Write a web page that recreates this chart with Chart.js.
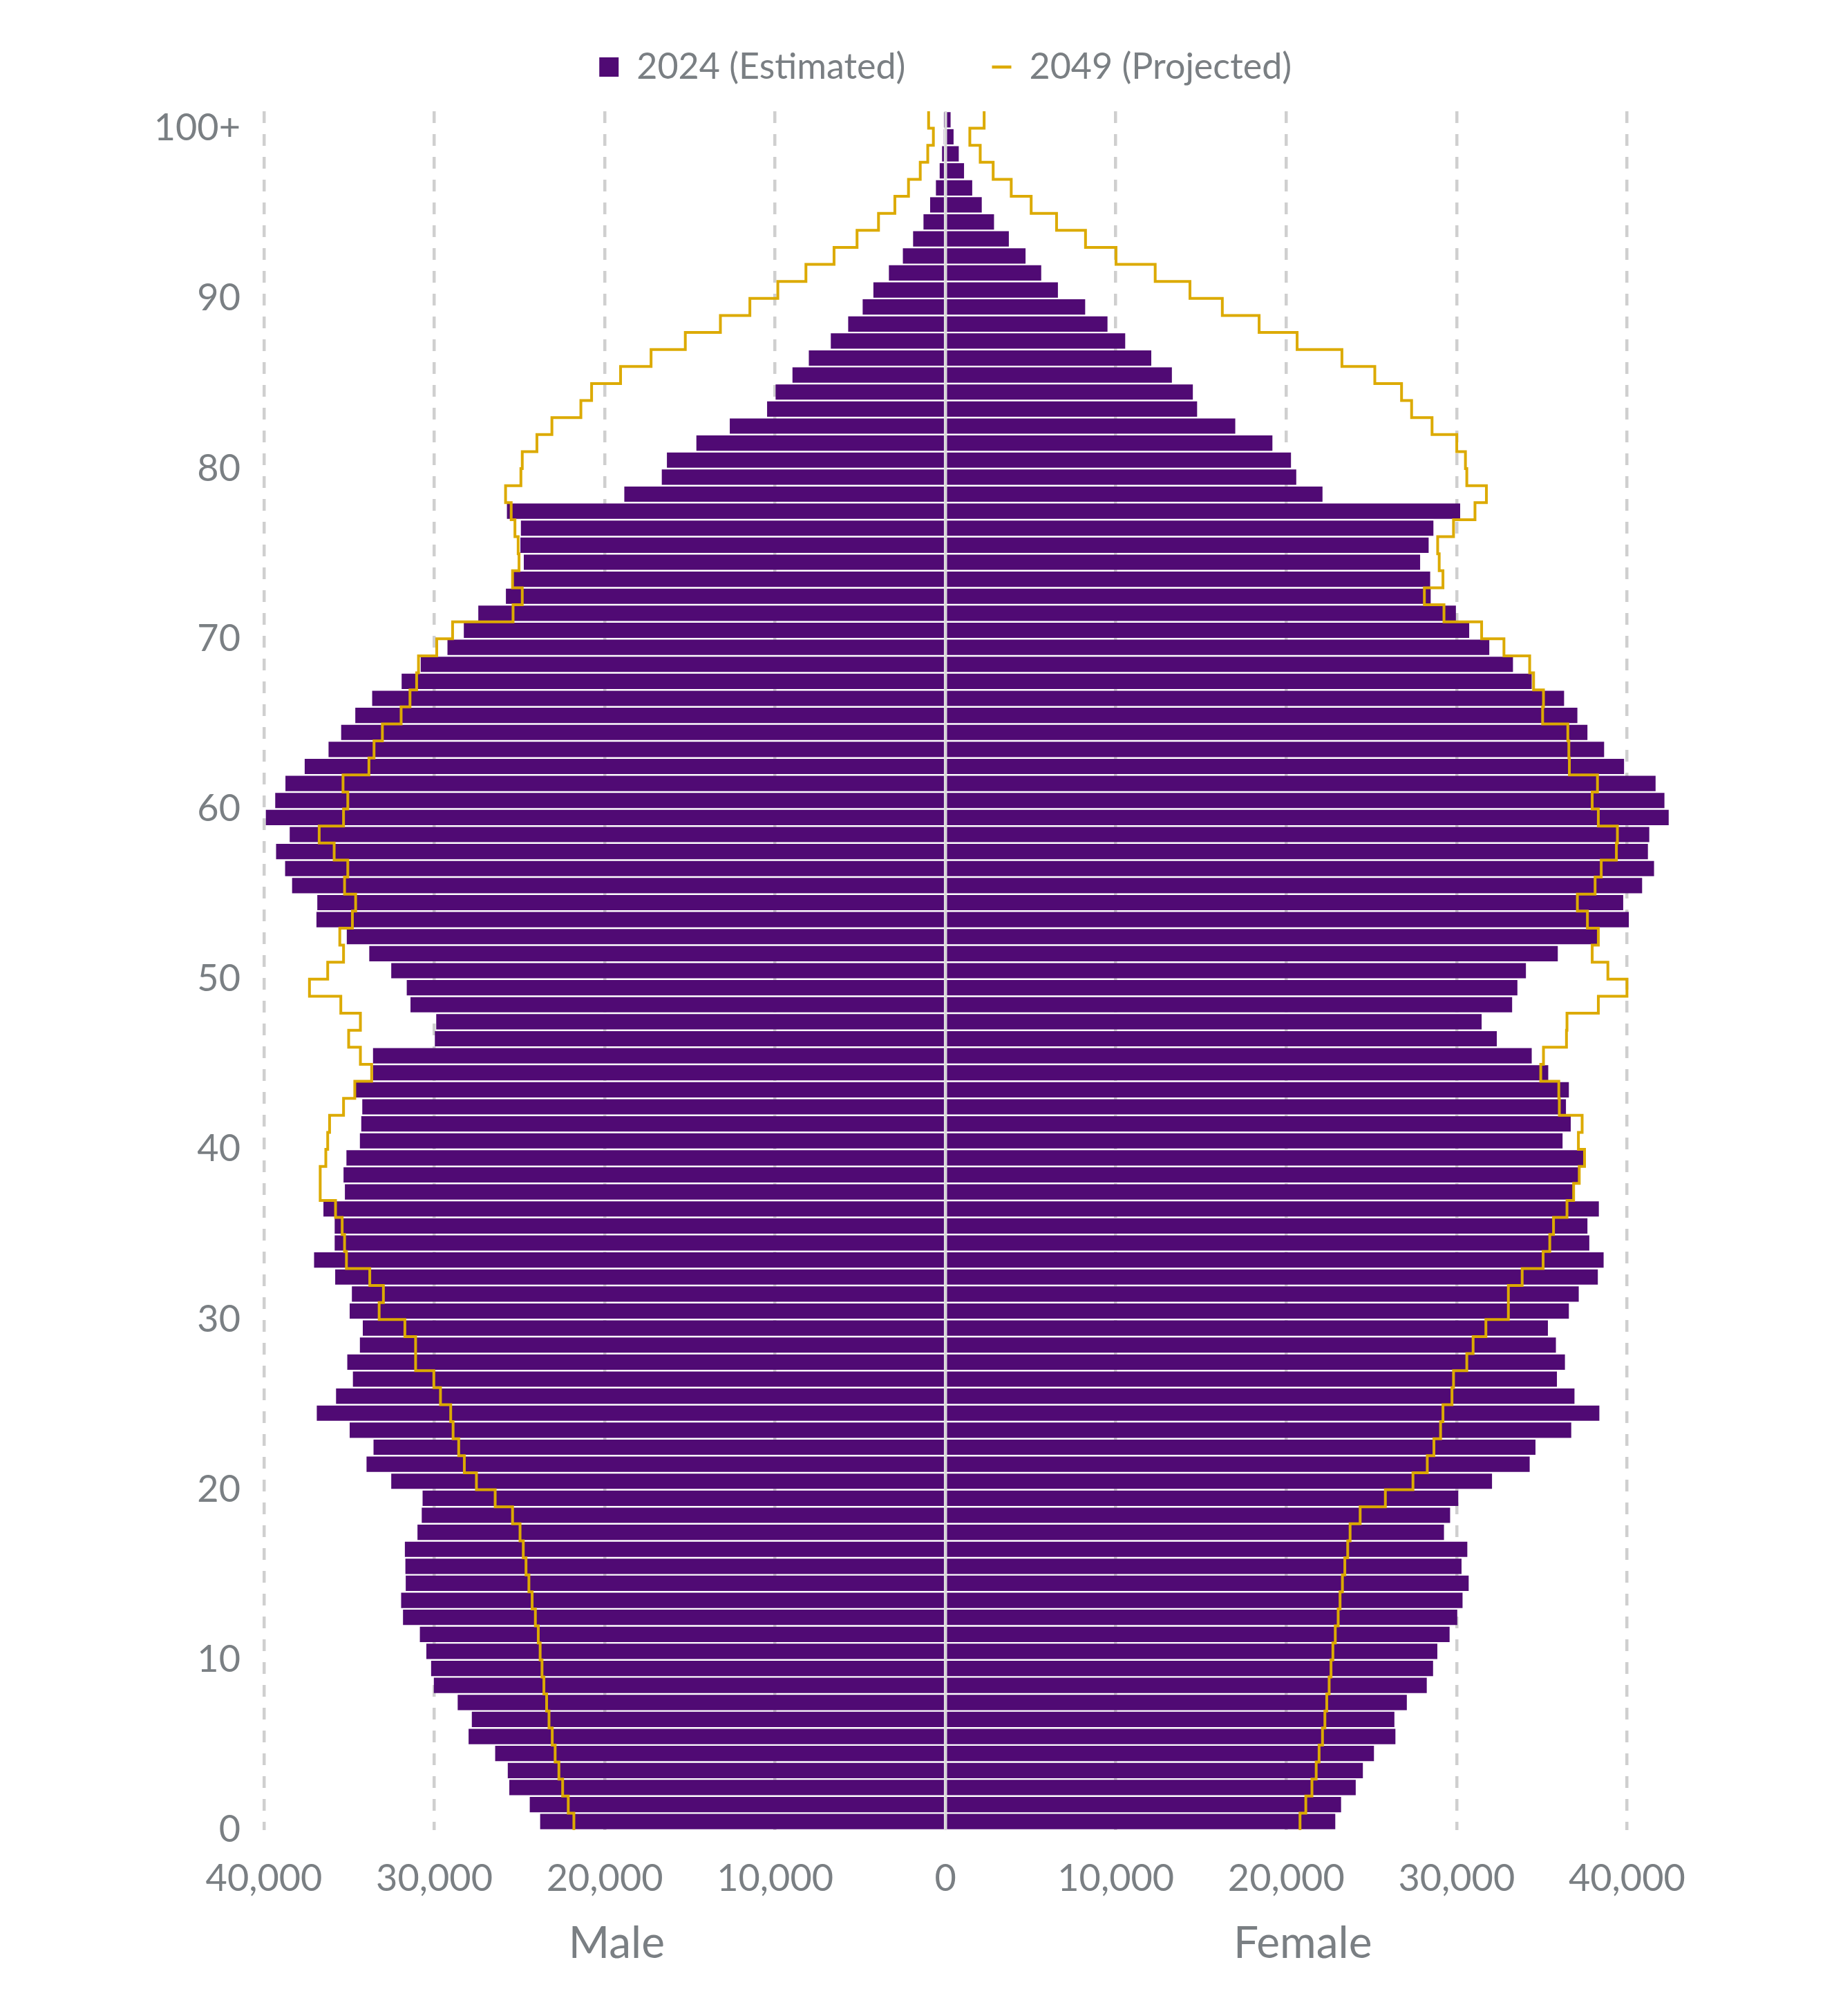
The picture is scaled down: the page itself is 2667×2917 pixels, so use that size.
<!DOCTYPE html>
<html>
<head>
<meta charset="utf-8">
<title>Population pyramid 2024 / 2049</title>
<script src="https://cdn.jsdelivr.net/npm/chart.js@4.4.1/dist/chart.umd.min.js"></script>
<style>
  html, body { margin: 0; padding: 0; background: #fff; overflow: hidden; }
  #wrap { width: 2667px; height: 2917px; position: relative; }
</style>
</head>
<body>
<div id="wrap"><canvas id="chart"></canvas></div>
<script>
/* ===== data (index = single year of age, 0 .. 100+) ===== */
var male2024 = [
  23790, 24400, 25600, 25690, 26430, 27990, 27800, 28630, 30030, 30190,
  30470, 30850, 31840, 31950, 31680, 31700, 31730, 30990, 30740, 30690,
  32530, 33980, 33570, 34970, 36900, 35770, 34780, 35110, 34370, 34200,
  34970, 34840, 35820, 37060, 35850, 35850, 36510, 35250, 35330, 35160,
  34370, 34290, 34230, 34640, 33600, 33600, 29970, 29890, 31400, 31620,
  32530, 33820, 35140, 36920, 36870, 38350, 38760, 39290, 38490, 39890,
  39340, 38740, 37610, 36210, 35470, 34640, 33650, 31920, 30800, 29230,
  28270, 27420, 25800, 25360, 24750, 24950, 24920, 25740, 18850, 16650,
  16350, 14620, 12660, 10470, 9970, 8980, 8020, 6730, 5710, 4860,
  4230, 3320, 2500, 1900, 1290, 900, 560, 340, 200, 100,
  50
];
var female2024 = [
  22880, 23220, 24080, 24500, 25150, 26410, 26350, 27080, 28250, 28620,
  28870, 29590, 30040, 30350, 30710, 30290, 30630, 29260, 29620, 30100,
  32080, 34290, 34630, 36730, 38380, 36920, 35890, 36360, 35830, 35360,
  36590, 37170, 38290, 38630, 37790, 37680, 38350, 36870, 37150, 37430,
  36220, 36700, 36420, 36590, 35380, 34410, 32360, 31470, 33260, 33570,
  34070, 35940, 38270, 40110, 39780, 40890, 41590, 41230, 41310, 42450,
  42200, 41680, 39830, 38660, 37680, 37090, 36310, 34410, 33310, 31920,
  30740, 29960, 28480, 28450, 27860, 28360, 28640, 30210, 22130, 20590,
  20280, 19190, 17010, 14770, 14520, 13290, 12080, 10550, 9510, 8200,
  6600, 5620, 4700, 3720, 2850, 2130, 1570, 1090, 780, 475,
  300
];
var male2049 = [
  21810, 22140, 22470, 22690, 22910, 23080, 23270, 23410, 23570, 23680,
  23790, 23900, 24070, 24260, 24450, 24620, 24780, 24970, 25410, 26430,
  27530, 28240, 28570, 28900, 29040, 29640, 30030, 31100, 31100, 31730,
  33240, 32990, 33790, 35160, 35270, 35410, 35800, 36700, 36700, 36370,
  36260, 36150, 35330, 34670, 33680, 34340, 35030, 34340, 35490, 37330,
  36260, 35330, 35550, 34810, 34620, 35270, 35080, 35880, 36760, 35330,
  35080, 35360, 33840, 33540, 33050, 31950, 31430, 31040, 30930, 29860,
  28930, 25380, 24840, 25410, 25030, 25080, 25270, 25490, 25820, 24920,
  24840, 23980, 23100, 21400, 20770, 19070, 17280, 15270, 13210, 11480,
  9840, 8190, 6540, 5190, 3930, 2970, 2170, 1480, 1040, 710,
  990
];
var female2049 = [
  20810, 21150, 21510, 21760, 21930, 22130, 22270, 22380, 22520, 22630,
  22740, 22880, 23050, 23160, 23300, 23440, 23610, 23750, 24340, 25820,
  27440, 28280, 28670, 29060, 29200, 29730, 29820, 30600, 30970, 31720,
  33040, 33040, 33850, 35080, 35470, 35690, 36480, 36870, 37200, 37510,
  37150, 37370, 36030, 36000, 34940, 35100, 36450, 36480, 38320, 40000,
  38880, 37960, 38320, 37680, 37090, 38130, 38490, 39380, 39440, 38320,
  37960, 38270, 36620, 36590, 36530, 35050, 35100, 34520, 34290, 32780,
  31470, 29260, 28110, 29200, 28980, 28890, 29820, 31080, 31750, 30600,
  30520, 30010, 28560, 27360, 26770, 25200, 23270, 20640, 18410, 16250,
  14350, 12310, 10010, 8220, 6520, 5030, 3860, 2800, 2040, 1430,
  2270
];

var seriesLabels = ['2024 (Estimated)', '2049 (Projected)'];
var sideNames = ['Male', 'Female'];
var yTickValues = [0, 10, 20, 30, 40, 50, 60, 70, 80, 90, 100];
var yTickLabels = ['0', '10', '20', '30', '40', '50', '60', '70', '80', '90', '100+'];
var xTickValues = [-40000, -30000, -20000, -10000, 0, 10000, 20000, 30000, 40000];

/* ===== styles ===== */
var PURPLE = '#500a74';
var GOLD = '#dcaa00';
var TEXT = '#7a7f83';
var GRID = '#cfcfcf';
var FONT = 'Lato, "Open Sans", sans-serif';

Chart.defaults.font.family = FONT;
Chart.defaults.color = TEXT;

// each age is one band [age, age + 1) on the y axis, tick sits at the lower edge
function barPoints(values, sign) {
    return values.map(function(v, age) {
        return { x: sign * v, y: age + 0.5 };
    });
}
// vertical step outline round the bands, top (100+) down to 0
function stepPoints(values, sign) {
    var pts = [];
    for (var age = values.length - 1; age >= 0; age--) {
        pts.push({ x: sign * values[age], y: age + 1 });
        pts.push({ x: sign * values[age], y: age });
    }
    return pts;
}

// light zero line over the bars
var centreLine = {
    id: 'centreLine',
    afterDatasetsDraw: function(chart) {
        var ctx = chart.ctx, area = chart.chartArea;
        var x = chart.scales.x.getPixelForValue(0);
        ctx.save();
        ctx.strokeStyle = '#d6d6d6';
        ctx.lineWidth = 3.5;
        ctx.beginPath();
        ctx.moveTo(x, area.top);
        ctx.lineTo(x, area.bottom);
        ctx.stroke();
        ctx.restore();
    }
};

// "Male" / "Female" under each half
var sideTitles = {
    id: 'sideTitles',
    afterDraw: function(chart) {
        var ctx = chart.ctx, sx = chart.scales.x;
        var y = chart.chartArea.bottom + 164;
        var centres = [-19300, 20970];
        ctx.save();
        ctx.font = '400 64px ' + FONT;
        ctx.fillStyle = TEXT;
        ctx.textAlign = 'center';
        ctx.textBaseline = 'middle';
        sideNames.forEach(function(name, i) {
            ctx.fillText(name, sx.getPixelForValue(centres[i]), y);
        });
        ctx.restore();
    }
};

// key row above the plot: square for the bars, short stroke for the outline
var keyRow = {
    id: 'keyRow',
    afterDraw: function(chart) {
        var ctx = chart.ctx;
        var y = chart.chartArea.top - 64;
        var sym = 28, textGap = 26, itemGap = 125;
        ctx.save();
        ctx.font = '400 52px ' + FONT;
        ctx.textBaseline = 'middle';
        ctx.textAlign = 'left';
        var w0 = ctx.measureText(seriesLabels[0]).width;
        var w1 = ctx.measureText(seriesLabels[1]).width;
        var total = sym + textGap + w0 + itemGap + sym + textGap + w1;
        var x = chart.scales.x.getPixelForValue(0) - total / 2;

        ctx.fillStyle = PURPLE;
        ctx.fillRect(x, y - sym / 2, sym, sym);
        ctx.fillStyle = TEXT;
        ctx.fillText(seriesLabels[0], x + sym + textGap, y);

        x += sym + textGap + w0 + itemGap;
        ctx.strokeStyle = GOLD;
        ctx.lineWidth = 4.5;
        ctx.beginPath();
        ctx.moveTo(x, y);
        ctx.lineTo(x + sym, y);
        ctx.stroke();
        ctx.fillText(seriesLabels[1], x + sym + textGap, y);
        ctx.restore();
    }
};

var barCommon = {
    type: 'bar',
    backgroundColor: PURPLE,
    borderWidth: 0,
    grouped: false,
    barPercentage: 0.9,
    categoryPercentage: 1.0,
    order: 2,
    xAxisID: 'x',
    yAxisID: 'y'
};
var lineCommon = {
    type: 'line',
    borderColor: GOLD,
    backgroundColor: GOLD,
    borderWidth: 4,
    pointRadius: 0,
    pointHoverRadius: 0,
    tension: 0,
    fill: false,
    order: 1,
    xAxisID: 'x',
    yAxisID: 'y'
};

var ctx = document.getElementById('chart');
var chart = new Chart(ctx, {
    type: 'bar',
    data: {
        datasets: [
            Object.assign({ label: seriesLabels[0], data: barPoints(male2024, -1) }, barCommon),
            Object.assign({ label: seriesLabels[0], data: barPoints(female2024, 1) }, barCommon),
            Object.assign({ label: seriesLabels[1], data: stepPoints(male2049, -1) }, lineCommon),
            Object.assign({ label: seriesLabels[1], data: stepPoints(female2049, 1) }, lineCommon)
        ]
    },
    options: {
        indexAxis: 'y',
        responsive: true,
        maintainAspectRatio: false,
        devicePixelRatio: 1,
        animation: false,
        layout: { padding: { top: 161, left: 0, right: 0, bottom: 0 } },
        plugins: {
            tooltip: { enabled: false },
            legend: { display: false }
        },
        scales: {
            x: {
                type: 'linear',
                position: 'bottom',
                min: -40000,
                max: 42500,
                afterBuildTicks: function(scale) {
                    scale.ticks = xTickValues.map(function(v) { return { value: v }; });
                },
                afterFit: function(scale) { scale.height = 269; },
                ticks: {
                    padding: 38,
                    maxRotation: 0,
                    autoSkip: false,
                    font: { size: 54 },
                    callback: function(v) { return Math.abs(v).toLocaleString('en-US'); }
                },
                grid: {
                    drawTicks: false,
                    lineWidth: 4.5,
                    color: function(c) {
                        return c.tick && c.tick.value === 0 ? 'rgba(0,0,0,0)' : GRID;
                    }
                },
                border: { display: false, dash: [17, 16] }
            },
            y: {
                type: 'linear',
                position: 'left',
                offset: false,
                min: 0,
                max: 101,
                afterBuildTicks: function(scale) {
                    scale.ticks = yTickValues.map(function(v) { return { value: v }; });
                },
                afterFit: function(scale) { scale.width = 382; },
                ticks: {
                    padding: 34,
                    autoSkip: false,
                    font: { size: 54 },
                    callback: function(v) { return yTickLabels[yTickValues.indexOf(v)]; }
                },
                grid: { display: false, drawTicks: false, offset: false },
                border: { display: false }
            },
            yRight: {
                type: 'linear',
                position: 'right',
                display: true,
                afterFit: function(scale) { scale.width = 251; },
                ticks: { display: false },
                grid: { display: false, drawTicks: false },
                border: { display: false }
            }
        }
    },
    plugins: [centreLine, sideTitles, keyRow]
});
</script>
</body>
</html>
